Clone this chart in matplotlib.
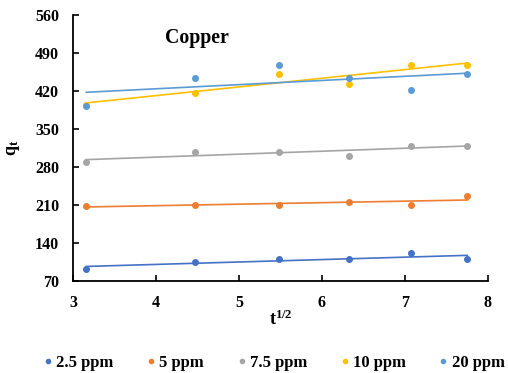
#!/usr/bin/env python3

import numpy as np
import matplotlib
matplotlib.use('Agg')
import matplotlib.pyplot as plt

plt.rcParams['font.family'] = ['Liberation Serif', 'DejaVu Serif']
plt.rcParams['font.weight'] = 'bold'
plt.rcParams['mathtext.fontset'] = 'custom'
plt.rcParams['mathtext.rm'] = 'Liberation Serif:bold'
plt.rcParams['mathtext.bf'] = 'Liberation Serif:bold'
plt.rcParams['mathtext.it'] = 'Liberation Serif:bold'

# Square root of contact time (min^1/2)
t_sqrt = [3.16, 4.47, 5.48, 6.32, 7.07, 7.75]

# Adsorbed amount q_t for each initial copper concentration
q_25 = [93, 105, 110, 110, 121, 110]
q_5 = [209, 210, 210, 215, 210, 227]
q_75 = [290, 308, 308, 301, 319, 319]
q_10 = [395, 417, 452, 433, 468, 468]
q_20 = [393, 444, 468, 444, 422, 452]

labels = ['2.5 ppm', '5 ppm', '7.5 ppm', '10 ppm', '20 ppm']
colors = ['#4472C4', '#ED7D31', '#A5A5A5', '#FFC000', '#5B9BD5']
series = [q_25, q_5, q_75, q_10, q_20]

fig = plt.figure(figsize=(5.08, 3.73), dpi=100)
ax = fig.add_axes([73 / 508, 1 - 281 / 373, 415 / 508, 266 / 373])

x = np.array(t_sqrt)
for q, c, lab in zip(series, colors, labels):
    q = np.array(q)
    ax.plot(x, q, 'o', color=c, markersize=4, label=lab, zorder=3)
    # linear trendline (intraparticle diffusion fit)
    k, b = np.polyfit(x, q, 1)
    ax.plot(x, k * x + b, '-', color=c, linewidth=1.2, zorder=2)

ax.set_xlim(3, 8)
ax.set_ylim(70, 560)
ax.set_yticks(np.arange(70, 561, 70))
ax.set_xticks([3, 4, 5, 6, 7, 8])
ax.spines['top'].set_visible(False)
ax.spines['right'].set_visible(False)
ax.spines['left'].set_linewidth(1.3)
ax.spines['bottom'].set_linewidth(1.3)
ax.tick_params(direction='in', length=4, width=1.2, labelsize=11.5)
ax.tick_params(axis='y', pad=10)
ax.tick_params(axis='x', pad=10)

ax.set_xlabel(r'$\mathrm{t}^{\mathrm{1/2}}$', fontsize=13, labelpad=-1)
ax.set_ylabel(r'$\mathrm{q}_{\mathrm{t}}$', fontsize=13, labelpad=9)

ax.text(0.222, 0.913, 'Copper', transform=ax.transAxes, fontsize=14.3,
        fontweight='bold', ha='left', va='center')

fig.legend(loc='center', bbox_to_anchor=(0.539, 1 - 363 / 373), ncol=5,
           frameon=False, fontsize=12, handlelength=0.6, handletextpad=0.2,
           columnspacing=1.95, markerscale=0.75, borderpad=0.1)

fig.savefig('out.png', dpi=100)
